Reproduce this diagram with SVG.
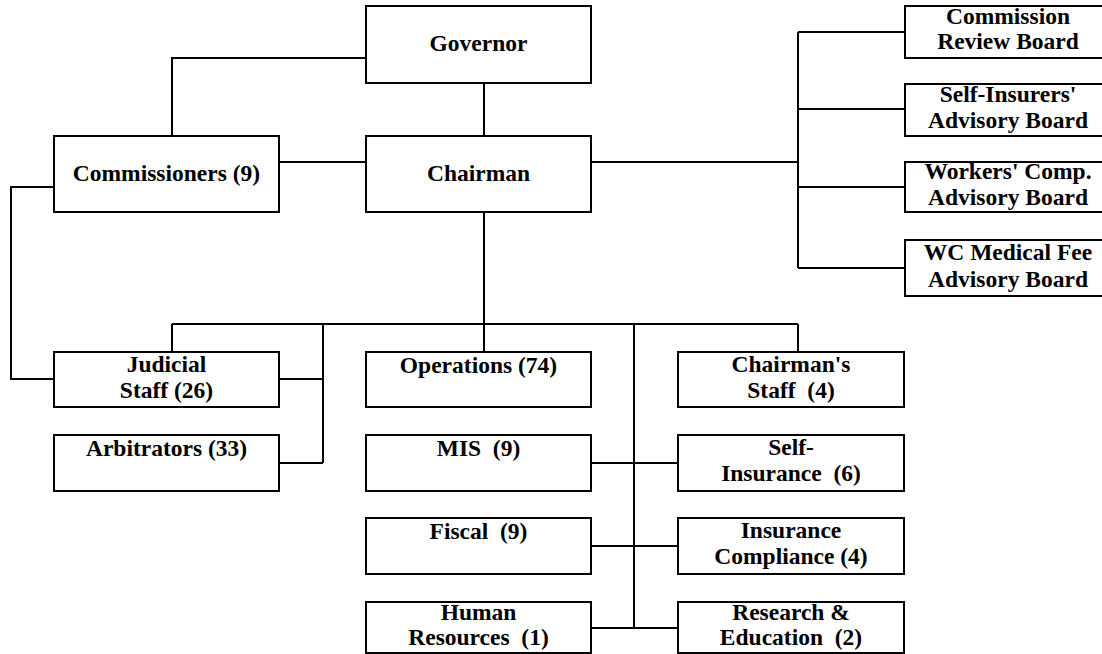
<svg xmlns="http://www.w3.org/2000/svg" width="1102" height="654" viewBox="0 0 1102 654">
<defs>
<style>
.box{fill:#fff;stroke:#000;stroke-width:2}
.ln{fill:none;stroke:#000;stroke-width:2}
.t{font-family:'Liberation Serif',serif;font-weight:700;font-size:23.5px;text-anchor:middle;fill:#000}
</style>
</defs>
<rect width="1102" height="654" fill="#fff"/>
<g id="connectors">
<polyline class="ln" points="366,58 172,58 172,136"/>
<line class="ln" x1="484" y1="83" x2="484" y2="136"/>
<line class="ln" x1="279" y1="162" x2="366" y2="162"/>
<line class="ln" x1="591" y1="162" x2="798" y2="162"/>
<line class="ln" x1="798" y1="32" x2="798" y2="268"/>
<line class="ln" x1="798" y1="32" x2="905" y2="32"/>
<line class="ln" x1="798" y1="109" x2="905" y2="109"/>
<line class="ln" x1="798" y1="187" x2="905" y2="187"/>
<line class="ln" x1="798" y1="268" x2="905" y2="268"/>
<polyline class="ln" points="54,187 11,187 11,379 54,379"/>
<line class="ln" x1="484" y1="212" x2="484" y2="352"/>
<line class="ln" x1="172" y1="324" x2="798" y2="324"/>
<line class="ln" x1="172" y1="324" x2="172" y2="352"/>
<line class="ln" x1="323" y1="324" x2="323" y2="463"/>
<line class="ln" x1="279" y1="379" x2="323" y2="379"/>
<line class="ln" x1="279" y1="463" x2="323" y2="463"/>
<line class="ln" x1="634" y1="324" x2="634" y2="628"/>
<line class="ln" x1="798" y1="324" x2="798" y2="352"/>
<line class="ln" x1="591" y1="463" x2="678" y2="463"/>
<line class="ln" x1="591" y1="546" x2="678" y2="546"/>
<line class="ln" x1="591" y1="628" x2="678" y2="628"/>
</g>
<g id="governor"><rect class="box" x="366" y="6" width="225" height="77"/><text class="t" x="478.5" y="51">Governor</text></g>
<g id="chairman"><rect class="box" x="366" y="136" width="225" height="76"/><text class="t" x="478.5" y="181">Chairman</text></g>
<g id="commissioners"><rect class="box" x="54" y="136" width="225" height="76"/><text class="t" x="166.5" y="181">Commissioners (9)</text></g>
<g id="commission-review-board"><rect class="box" x="905" y="6" width="212" height="52"/><text class="t" x="1008" y="24">Commission</text><text class="t" x="1008" y="49">Review Board</text></g>
<g id="self-insurers-board"><rect class="box" x="905" y="84" width="212" height="52"/><text class="t" x="1008" y="102">Self-Insurers'</text><text class="t" x="1008" y="128">Advisory Board</text></g>
<g id="workers-comp-board"><rect class="box" x="905" y="162" width="212" height="50"/><text class="t" x="1008" y="179">Workers' Comp.</text><text class="t" x="1008" y="205">Advisory Board</text></g>
<g id="medical-fee-board"><rect class="box" x="905" y="240" width="212" height="56"/><text class="t" x="1008" y="260">WC Medical Fee</text><text class="t" x="1008" y="287">Advisory Board</text></g>
<g id="judicial-staff"><rect class="box" x="54" y="352" width="225" height="55"/><text class="t" x="166.5" y="372">Judicial</text><text class="t" x="166.5" y="398">Staff (26)</text></g>
<g id="arbitrators"><rect class="box" x="54" y="435" width="225" height="56"/><text class="t" x="166.5" y="456">Arbitrators (33)</text></g>
<g id="operations"><rect class="box" x="366" y="352" width="225" height="55"/><text class="t" x="478.5" y="373">Operations (74)</text></g>
<g id="mis"><rect class="box" x="366" y="435" width="225" height="56"/><text class="t" x="478.5" y="456">MIS&#160; (9)</text></g>
<g id="fiscal"><rect class="box" x="366" y="518" width="225" height="56"/><text class="t" x="478.5" y="539">Fiscal&#160; (9)</text></g>
<g id="human-resources"><rect class="box" x="366" y="602" width="225" height="51"/><text class="t" x="478.5" y="620">Human</text><text class="t" x="478.5" y="645">Resources&#160; (1)</text></g>
<g id="chairmans-staff"><rect class="box" x="678" y="352" width="226" height="55"/><text class="t" x="791" y="372">Chairman's</text><text class="t" x="791" y="398">Staff&#160; (4)</text></g>
<g id="self-insurance"><rect class="box" x="678" y="435" width="226" height="56"/><text class="t" x="791" y="455">Self-</text><text class="t" x="791" y="481">Insurance&#160; (6)</text></g>
<g id="insurance-compliance"><rect class="box" x="678" y="518" width="226" height="56"/><text class="t" x="791" y="538">Insurance</text><text class="t" x="791" y="564">Compliance (4)</text></g>
<g id="research-education"><rect class="box" x="678" y="602" width="226" height="51"/><text class="t" x="791" y="620">Research &amp;</text><text class="t" x="791" y="645">Education&#160; (2)</text></g>
</svg>
